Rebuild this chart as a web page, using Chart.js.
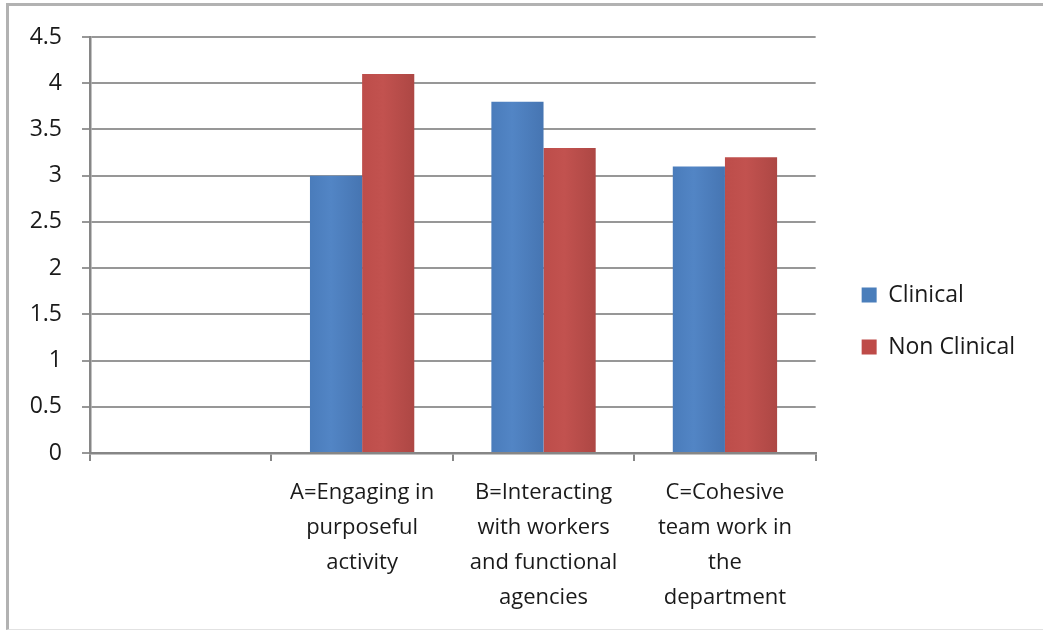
<!DOCTYPE html>
<html lang="en">
<head>
    <meta charset="UTF-8">
    <title>Clinical vs Non Clinical</title>
    <script src="https://cdn.jsdelivr.net/npm/chart.js"></script>
    <style>
        html, body { margin: 0; padding: 0; background: #fff; }
        #frame {
            position: absolute; left: 6px; top: 3px; width: 1037px; height: 627px;
            border-top: 3px solid #b2b2b2; border-left: 3px solid #b2b2b2;
            border-bottom: 1px solid #e2e2e2; box-sizing: border-box;
        }
        #wrap { position: absolute; left: 0; top: 0; width: 1043px; height: 631px; }
    </style>
</head>
<body>
    <div id="frame"></div>
    <div id="wrap"><canvas id="chart"></canvas></div>

    <script>
        // categories (first slot is left empty in the chart)
        const categories = [
            '',
            ['A=Engaging in', 'purposeful', 'activity'],
            ['B=Interacting', 'with workers', 'and functional', 'agencies'],
            ['C=Cohesive', 'team work in', 'the', 'department']
        ];
        const clinical = [null, 3.0, 3.8, 3.1];
        const nonClinical = [null, 4.1, 3.3, 3.2];
        const yTicks = [0, 0.5, 1, 1.5, 2, 2.5, 3, 3.5, 4, 4.5];

        const font = "'Open Sans', 'Liberation Sans', sans-serif";
        const axisGrey = '#868686';
        const catPct = 0.575;

        const blue = { solid: '#4a7ebb', stops: ['#4a7cbb', '#5285c5', '#4675b2'] };
        const red = { solid: '#be4b48', stops: ['#bd4d4a', '#c2524f', '#ad4744'] };

        // soft left-to-right shading on each bar
        function barFill(pal) {
            return c => {
                const xs = c.chart.scales.x;
                if (!xs || c.dataIndex == null || !(xs.width > 0)) return pal.solid;
                const w = xs.width / categories.length * catPct / 2;
                const left = xs.getPixelForValue(c.dataIndex) - w + c.datasetIndex * w;
                if (!isFinite(left) || !isFinite(w)) return pal.solid;
                const g = c.chart.ctx.createLinearGradient(left, 0, left + w, 0);
                g.addColorStop(0, pal.stops[0]);
                g.addColorStop(0.4, pal.stops[1]);
                g.addColorStop(1, pal.stops[2]);
                return g;
            };
        }

        // nudge the legend a bit right/up of where the layout puts it
        const legendNudge = {
            id: 'legendNudge',
            afterLayout(chart) {
                const lg = chart.legend;
                const dx = chart.chartArea.right + 17 - lg.left;
                lg.left += dx; lg.right += dx;
                lg.top -= 13; lg.bottom -= 13;
            }
        };

        new Chart(document.getElementById('chart'), {
            type: 'bar',
            data: {
                labels: categories,
                datasets: [
                    { label: 'Clinical', data: clinical, backgroundColor: barFill(blue) },
                    { label: 'Non Clinical', data: nonClinical, backgroundColor: barFill(red) }
                ]
            },
            plugins: [legendNudge],
            options: {
                responsive: true,
                maintainAspectRatio: false,
                animation: false,
                categoryPercentage: catPct,
                barPercentage: 1,
                layout: { padding: { top: 37, right: 35, bottom: 0, left: 0 } },
                plugins: {
                    tooltip: { enabled: false },
                    legend: {
                        position: 'right',
                        labels: {
                            boxWidth: 15, boxHeight: 15, padding: 29,
                            color: '#1a1a1a',
                            font: { family: font, size: 23 },
                            generateLabels: chart => {
                                const items = Chart.defaults.plugins.legend.labels.generateLabels(chart);
                                const solids = [blue.solid, red.solid];
                                items.forEach((it, i) => { it.fillStyle = solids[i]; it.lineWidth = 0; });
                                return items;
                            }
                        }
                    }
                },
                scales: {
                    x: {
                        grid: { drawOnChartArea: false, drawTicks: true, tickLength: 8, color: axisGrey, lineWidth: 2 },
                        border: { color: axisGrey, width: 2.5 },
                        ticks: {
                            color: '#1a1a1a', maxRotation: 0, autoSkip: false, padding: 14,
                            font: { family: font, size: 22, lineHeight: 1.6 }
                        },
                        afterFit: s => { s.height = 178; }
                    },
                    y: {
                        min: 0, max: 4.5,
                        afterBuildTicks: s => { s.ticks = yTicks.map(v => ({ value: v })); },
                        grid: { color: '#979797', lineWidth: 2, tickLength: 8 },
                        border: { color: axisGrey, width: 2.5 },
                        ticks: {
                            color: '#1a1a1a', padding: 20,
                            font: { family: font, size: 23 },
                            callback: v => String(v)
                        },
                        afterFit: s => { s.width = 90; }
                    }
                }
            }
        });
    </script>
</body>
</html>
